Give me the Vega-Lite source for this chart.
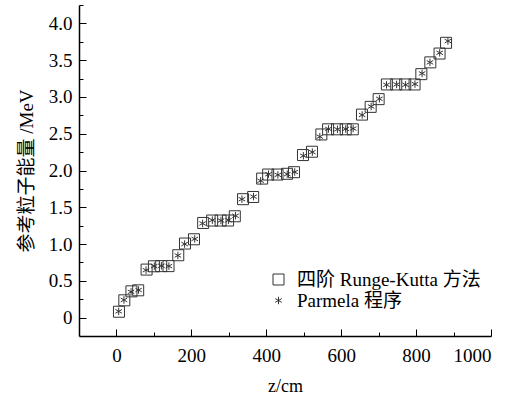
{
  "$schema": "https://vega.github.io/schema/vega-lite/v6.json",
  "autosize": {"type": "none"},
  "padding": {"left": 79, "top": 5, "right": 19, "bottom": 62},
  "width": 412,
  "height": 331,
  "background": "white",
  "config": {
    "view": {"stroke": null},
    "font": "Liberation Serif",
    "axis": {
      "grid": false,
      "domainColor": "black",
      "domainWidth": 1.5,
      "tickColor": "black",
      "tickWidth": 1,
      "labelColor": "black",
      "titleColor": "black",
      "labelFont": "Liberation Serif",
      "labelFontSize": 19,
      "titleFont": "Liberation Serif, Noto Sans CJK SC",
      "titleFontSize": 18,
      "titleFontWeight": "normal"
    },
    "legend": {
      "labelFont": "Liberation Serif, Noto Sans CJK SC",
      "labelFontSize": 19,
      "labelColor": "black",
      "labelLimit": 400
    }
  },
  "data": {
    "values": [
      {"z": 6.7, "E": 0.08, "method": "四阶 Runge-Kutta 方法"},
      {"z": 21, "E": 0.235, "method": "四阶 Runge-Kutta 方法"},
      {"z": 40, "E": 0.357, "method": "四阶 Runge-Kutta 方法"},
      {"z": 58, "E": 0.371, "method": "四阶 Runge-Kutta 方法"},
      {"z": 80.5, "E": 0.653, "method": "四阶 Runge-Kutta 方法"},
      {"z": 100, "E": 0.698, "method": "四阶 Runge-Kutta 方法"},
      {"z": 119.5, "E": 0.7, "method": "四阶 Runge-Kutta 方法"},
      {"z": 139, "E": 0.7, "method": "四阶 Runge-Kutta 方法"},
      {"z": 165, "E": 0.848, "method": "四阶 Runge-Kutta 方法"},
      {"z": 183, "E": 1.007, "method": "四阶 Runge-Kutta 方法"},
      {"z": 207, "E": 1.065, "method": "四阶 Runge-Kutta 方法"},
      {"z": 231.5, "E": 1.287, "method": "四阶 Runge-Kutta 方法"},
      {"z": 255.5, "E": 1.32, "method": "四阶 Runge-Kutta 方法"},
      {"z": 278, "E": 1.32, "method": "四阶 Runge-Kutta 方法"},
      {"z": 298, "E": 1.32, "method": "四阶 Runge-Kutta 方法"},
      {"z": 316, "E": 1.378, "method": "四阶 Runge-Kutta 方法"},
      {"z": 338, "E": 1.61, "method": "四阶 Runge-Kutta 方法"},
      {"z": 365, "E": 1.64, "method": "四阶 Runge-Kutta 方法"},
      {"z": 389, "E": 1.89, "method": "四阶 Runge-Kutta 方法"},
      {"z": 405, "E": 1.945, "method": "四阶 Runge-Kutta 方法"},
      {"z": 430, "E": 1.945, "method": "四阶 Runge-Kutta 方法"},
      {"z": 455.5, "E": 1.955, "method": "四阶 Runge-Kutta 方法"},
      {"z": 474, "E": 1.977, "method": "四阶 Runge-Kutta 方法"},
      {"z": 498, "E": 2.21, "method": "四阶 Runge-Kutta 方法"},
      {"z": 522, "E": 2.255, "method": "四阶 Runge-Kutta 方法"},
      {"z": 547, "E": 2.49, "method": "四阶 Runge-Kutta 方法"},
      {"z": 565, "E": 2.56, "method": "四阶 Runge-Kutta 方法"},
      {"z": 589, "E": 2.56, "method": "四阶 Runge-Kutta 方法"},
      {"z": 612, "E": 2.56, "method": "四阶 Runge-Kutta 方法"},
      {"z": 631, "E": 2.56, "method": "四阶 Runge-Kutta 方法"},
      {"z": 655.5, "E": 2.76, "method": "四阶 Runge-Kutta 方法"},
      {"z": 678.7, "E": 2.865, "method": "四阶 Runge-Kutta 方法"},
      {"z": 700, "E": 2.97, "method": "四阶 Runge-Kutta 方法"},
      {"z": 722, "E": 3.17, "method": "四阶 Runge-Kutta 方法"},
      {"z": 747, "E": 3.17, "method": "四阶 Runge-Kutta 方法"},
      {"z": 771, "E": 3.17, "method": "四阶 Runge-Kutta 方法"},
      {"z": 796, "E": 3.17, "method": "四阶 Runge-Kutta 方法"},
      {"z": 814, "E": 3.31, "method": "四阶 Runge-Kutta 方法"},
      {"z": 838, "E": 3.47, "method": "四阶 Runge-Kutta 方法"},
      {"z": 862.7, "E": 3.59, "method": "四阶 Runge-Kutta 方法"},
      {"z": 880, "E": 3.736, "method": "四阶 Runge-Kutta 方法"},

      {"z": 6, "E": 0.085, "method": "Parmela 程序"},
      {"z": 20, "E": 0.24, "method": "Parmela 程序"},
      {"z": 39, "E": 0.35, "method": "Parmela 程序"},
      {"z": 59, "E": 0.375, "method": "Parmela 程序"},
      {"z": 79, "E": 0.645, "method": "Parmela 程序"},
      {"z": 101, "E": 0.7, "method": "Parmela 程序"},
      {"z": 120, "E": 0.705, "method": "Parmela 程序"},
      {"z": 140, "E": 0.7, "method": "Parmela 程序"},
      {"z": 164, "E": 0.845, "method": "Parmela 程序"},
      {"z": 182, "E": 1.0, "method": "Parmela 程序"},
      {"z": 209, "E": 1.07, "method": "Parmela 程序"},
      {"z": 230, "E": 1.28, "method": "Parmela 程序"},
      {"z": 256, "E": 1.325, "method": "Parmela 程序"},
      {"z": 279, "E": 1.32, "method": "Parmela 程序"},
      {"z": 299, "E": 1.325, "method": "Parmela 程序"},
      {"z": 318, "E": 1.385, "method": "Parmela 程序"},
      {"z": 335, "E": 1.61, "method": "Parmela 程序"},
      {"z": 366, "E": 1.645, "method": "Parmela 程序"},
      {"z": 385, "E": 1.86, "method": "Parmela 程序"},
      {"z": 406, "E": 1.95, "method": "Parmela 程序"},
      {"z": 431, "E": 1.94, "method": "Parmela 程序"},
      {"z": 456, "E": 1.95, "method": "Parmela 程序"},
      {"z": 476, "E": 1.98, "method": "Parmela 程序"},
      {"z": 499, "E": 2.2, "method": "Parmela 程序"},
      {"z": 523, "E": 2.25, "method": "Parmela 程序"},
      {"z": 543, "E": 2.46, "method": "Parmela 程序"},
      {"z": 566, "E": 2.565, "method": "Parmela 程序"},
      {"z": 590, "E": 2.56, "method": "Parmela 程序"},
      {"z": 612, "E": 2.565, "method": "Parmela 程序"},
      {"z": 632, "E": 2.57, "method": "Parmela 程序"},
      {"z": 656, "E": 2.755, "method": "Parmela 程序"},
      {"z": 680, "E": 2.87, "method": "Parmela 程序"},
      {"z": 702, "E": 2.975, "method": "Parmela 程序"},
      {"z": 721, "E": 3.165, "method": "Parmela 程序"},
      {"z": 748, "E": 3.17, "method": "Parmela 程序"},
      {"z": 772, "E": 3.165, "method": "Parmela 程序"},
      {"z": 797, "E": 3.175, "method": "Parmela 程序"},
      {"z": 816, "E": 3.32, "method": "Parmela 程序"},
      {"z": 837, "E": 3.47, "method": "Parmela 程序"},
      {"z": 863, "E": 3.6, "method": "Parmela 程序"},
      {"z": 885, "E": 3.76, "method": "Parmela 程序"}
    ]
  },
  "mark": {"type": "point", "filled": false, "strokeWidth": 1, "opacity": 1},
  "encoding": {
    "x": {
      "field": "z",
      "type": "quantitative",
      "scale": {"domain": [-100, 1000], "nice": false, "zero": false},
      "axis": {
        "title": "z/cm",
        "values": [0, 100, 200, 300, 400, 500, 600, 700, 800, 900, 1000],
        "format": "d",
        "labelFont": "Liberation Serif",
        "labelExpr": "datum.value % 200 == 0 ? datum.label : ''",
        "tickSize": {"condition": {"test": "datum.value % 200 == 0", "value": -7}, "value": -4},
        "labelPadding": 17,
        "titlePadding": 12
      }
    },
    "y": {
      "field": "E",
      "type": "quantitative",
      "scale": {"domain": [-0.25, 4.25], "nice": false, "zero": false},
      "axis": {
        "title": "参考粒子能量 /MeV",
        "titleFontSize": 19,
        "values": [0, 0.25, 0.5, 0.75, 1, 1.25, 1.5, 1.75, 2, 2.25, 2.5, 2.75, 3, 3.25, 3.5, 3.75, 4, 4.25],
        "labelFont": "Liberation Serif",
        "labelExpr": "datum.value == 0 ? '0' : (datum.value * 2 == round(datum.value * 2) && datum.value < 4.1 ? format(datum.value, '.1f') : '')",
        "tickSize": {"condition": {"test": "datum.value * 2 == round(datum.value * 2) && datum.value < 4.1", "value": -7}, "value": -4},
        "labelPadding": 14,
        "titlePadding": 12
      }
    },
    "shape": {
      "field": "method",
      "type": "nominal",
      "scale": {
        "domain": ["四阶 Runge-Kutta 方法", "Parmela 程序"],
        "range": ["square", "M0,-1L0,1M-0.87,-0.5L0.87,0.5M-0.87,0.5L0.87,-0.5"]
      },
      "legend": {
        "title": null,
        "orient": "none",
        "legendX": 190,
        "legendY": 265,
        "labelOffset": 9,
        "rowPadding": 1,
        "symbolStrokeColor": "#333",
        "symbolStrokeWidth": 1
      }
    },
    "size": {
      "field": "method",
      "type": "nominal",
      "scale": {"domain": ["四阶 Runge-Kutta 方法", "Parmela 程序"], "range": [121, 56]}
    },
    "stroke": {"value": "#333"}
  }
}
